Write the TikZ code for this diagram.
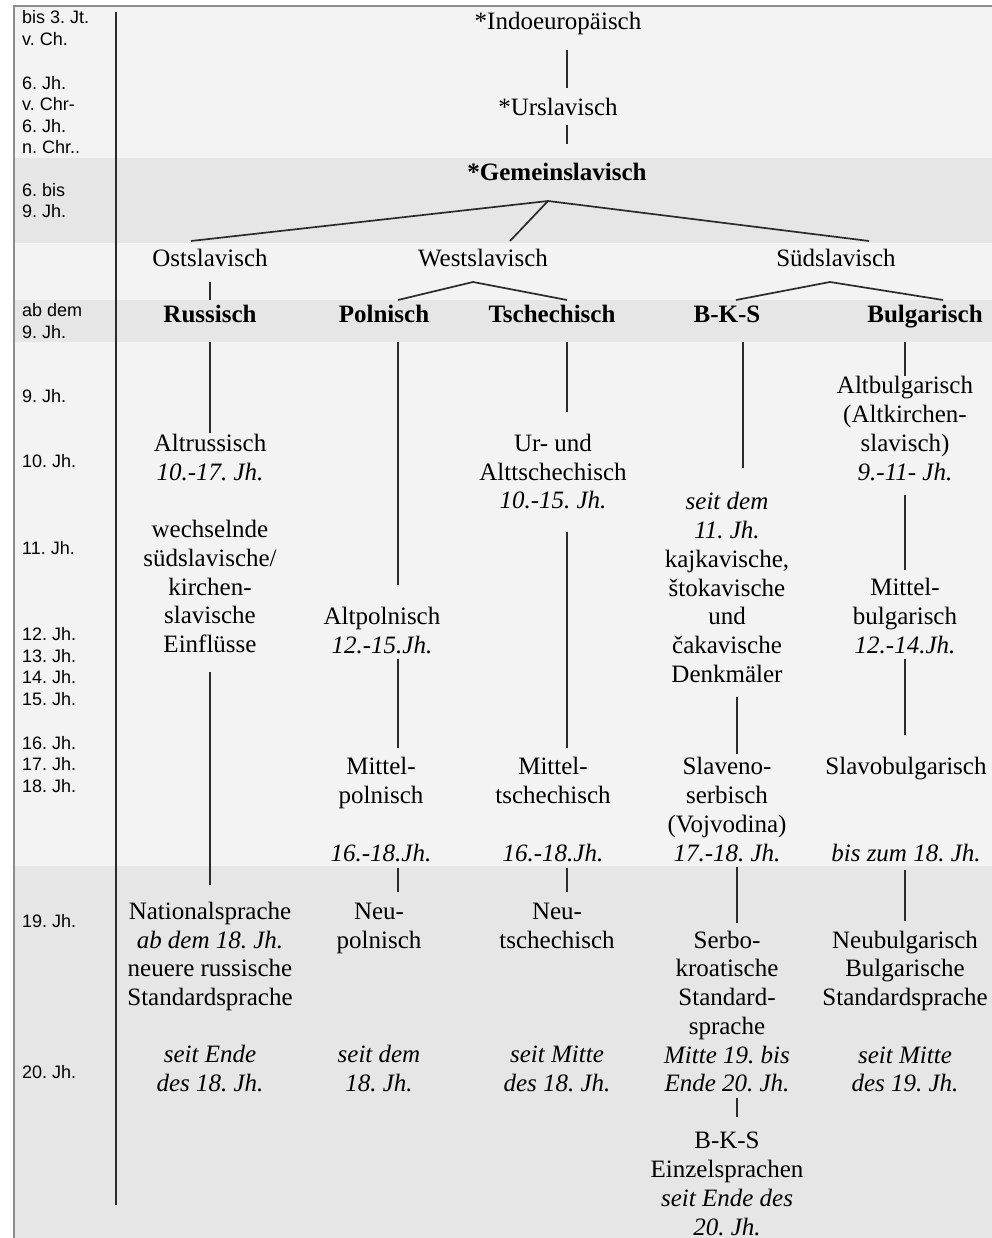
\documentclass[tikz,border=0pt]{standalone}
\usepackage{fontspec}
\setmainfont{Liberation Serif}
\newfontfamily\yrfont{Liberation Sans}
\usetikzlibrary{calc}
\frenchspacing
\definecolor{bandlight}{HTML}{F3F3F3}
\definecolor{banddark}{HTML}{E6E6E6}
\definecolor{framegray}{HTML}{8C8C8C}
\definecolor{linecol}{HTML}{2B2B2B}
\newcommand\sr{\rule[-6pt]{0pt}{24pt}}
\newcommand\vconn[5]{\draw[ln, shorten <=#3pt, shorten >=#4pt] (#1.south -| #5) -- (#2.north -| #5);}
\begin{document}
\begin{tikzpicture}[x=1pt,y=-1pt,
  lbl/.style={font=\frenchspacing\fontsize{25}{28.7}\selectfont, align=center, inner sep=0pt, outer sep=0pt},
  hdl/.style={lbl, font=\frenchspacing\fontsize{25}{28.7}\selectfont\bfseries},
  yrl/.style={font=\frenchspacing\yrfont\fontsize{18}{21.5}\selectfont, align=left, anchor=west, inner sep=0pt},
  ln/.style={draw=linecol, line width=1.7pt, line join=round},
]
\useasboundingbox (0,0) rectangle (992,1238);
% background bands
\fill[white] (0,0) rectangle (992,1238);
\fill[bandlight] (14,6) rectangle (992,158);
\fill[banddark] (14,158) rectangle (992,243);
\fill[bandlight] (14,243) rectangle (992,300);
\fill[banddark] (14,300) rectangle (992,342);
\fill[bandlight] (14,342) rectangle (992,866);
\fill[banddark] (14,866) rectangle (992,1238);
\draw[framegray, line width=1.5pt] (14,1238) -- (14,6) -- (992,6);
% time axis
\draw[linecol, line width=1.7pt] (116,12) -- (116,1205);

% column x positions
\coordinate (cI) at (567,0);
\coordinate (cR) at (210,0);
\coordinate (cP) at (398,0);
\coordinate (cT) at (567,0);
\coordinate (cB) at (743,0);
\coordinate (cBb) at (737,0);
\coordinate (cG) at (905,0);

% year labels
\node[yrl] (y1) at (22,28) {bis 3. Jt.\\v. Ch.};
\node[yrl] (y2) at (22,115) {6. Jh.\\v. Chr-\\6. Jh.\\n. Chr..};
\node[yrl] (y3) at (22,200.5) {6. bis\\9. Jh.};
\node[yrl] (y4) at (22,321) {ab dem\\9. Jh.};
\node[yrl] (y5) at (22,396.5) {9. Jh.};
\node[yrl] (y6) at (22,461.5) {10. Jh.};
\node[yrl] (y7) at (22,548.5) {11. Jh.};
\node[yrl] (y8) at (22,666.5) {12. Jh.\\13. Jh.\\14. Jh.\\15. Jh.};
\node[yrl] (y9) at (22,764.5) {16. Jh.\\17. Jh.\\18. Jh.};
\node[yrl] (y10) at (22,921) {19. Jh.};
\node[yrl] (y11) at (22,1072) {20. Jh.};

% top of tree
\node[lbl] (indo) at (558,24) {\sr*Indoeuropäisch};
\node[lbl] (ur) at (558,110) {\sr*Urslavisch};
\node[hdl] (gem) at (557,175) {\sr*Gemeinslavisch};
\node[lbl] (ost) at (210,261) {\sr Ostslavisch};
\node[lbl] (west) at (483,261) {\sr Westslavisch};
\node[lbl] (sued) at (836,261) {\sr Südslavisch};
\node[hdl] (russ) at (210,316) {\sr Russisch};
\node[hdl] (pol) at (384,316) {\sr Polnisch};
\node[hdl] (tsch) at (552,316) {\sr Tschechisch};
\node[hdl] (bks) at (727,316) {\sr B-K-S};
\node[hdl] (bulg) at (925,316) {\sr Bulgarisch};

% Russian
\node[lbl] (altr) at (210,546) {\sr Altrussisch\\\textit{10.-17. Jh.}\\~\\wechselnde\\südslavische/\\kirchen-\\slavische\\\sr Einflüsse};
\node[lbl] (nat) at (210,999.5) {\sr Nationalsprache\\\textit{ab dem 18. Jh.}\\neuere russische\\Standardsprache\\~\\\textit{seit Ende}\\\sr\textit{des 18. Jh.}};
% Polish
\node[lbl] (altp) at (382,633) {\sr Altpolnisch\\\sr\textit{12.-15.Jh.}};
\node[lbl] (mittp) at (381,812) {\sr Mittel-\\polnisch\\~\\\sr\textit{16.-18.Jh.}};
\node[lbl] (neup) at (379,999.5) {\sr Neu-\\polnisch\\~\\~\\~\\\textit{seit dem}\\\sr\textit{18. Jh.}};
% Czech
\node[lbl] (urt) at (553,474) {\sr Ur- und\\Alttschechisch\\\sr\textit{10.-15. Jh.}};
\node[lbl] (mittt) at (553,812) {\sr Mittel-\\tschechisch\\~\\\sr\textit{16.-18.Jh.}};
\node[lbl] (neut) at (557,999.5) {\sr Neu-\\tschechisch\\~\\~\\~\\\textit{seit Mitte}\\\sr\textit{des 18. Jh.}};
% B-K-S
\node[lbl] (dial) at (727,590) {\sr\textit{seit dem}\\\textit{11. Jh.}\\kajkavische,\\štokavische\\und\\čakavische\\\sr Denkmäler};
\node[lbl] (slav) at (727,812) {\sr Slaveno-\\serbisch\\(Vojvodina)\\\sr\textit{17.-18. Jh.}};
\node[lbl] (serbo) at (727,1014) {\sr Serbo-\\kroatische\\Standard-\\sprache\\\textit{Mitte 19. bis}\\\sr\textit{Ende 20. Jh.}};
\node[lbl] (bkse) at (727,1186) {\sr B-K-S\\Einzelsprachen\\\textit{seit Ende des}\\\sr\textit{20. Jh.}};
% Bulgarian
\node[lbl] (altb) at (905,431) {\sr Altbulgarisch\\(Altkirchen-\\slavisch)\\\sr\textit{9.-11- Jh.}};
\node[lbl] (mittb) at (905,618.5) {\sr Mittel-\\bulgarisch\\\sr\textit{12.-14.Jh.}};
\node[lbl] (slavb) at (906,812) {\sr Slavobulgarisch\\~\\~\\\sr\textit{bis zum 18. Jh.}};
\node[lbl] (neub) at (905,1014) {\sr Neubulgarisch\\Bulgarische\\Standardsprache\\~\\\textit{seit Mitte}\\\sr\textit{des 19. Jh.}};

% connectors: top
\vconn{indo}{ur}{14}{10}{cI}
\vconn{ur}{gem}{3}{19}{cI}
\coordinate (gapex) at ($(gem.south)+(-9,14)$);
\draw[ln] ($(ost.north)+(-19,-8)$) -- (gapex) -- ($(sued.north)+(33,-8)$);
\draw[ln] (gapex) -- ($(west.north)+(27,-8)$);
\vconn{ost}{russ}{9}{4}{cR}
\coordinate (wapex) at ($(west.south)+(-10,9)$);
\draw[ln] ($(pol.north -| cP)+(0,-4)$) -- (wapex) -- ($(tsch.north -| cT)+(0,-4)$);
\coordinate (sapex) at ($(sued.south)+(-6,9)$);
\draw[ln] ($(bks.north)+(9,-4)$) -- (sapex) -- ($(bulg.north)+(18,-4)$);

% connectors: columns
\vconn{russ}{altr}{14}{1}{cR}
\vconn{altr}{nat}{14}{16}{cR}
\vconn{pol}{altp}{14}{22}{cP}
\vconn{altp}{mittp}{0}{9}{cP}
\vconn{mittp}{neup}{1}{9}{cP}
\vconn{tsch}{urt}{14}{21}{cT}
\vconn{urt}{mittt}{17}{9}{cT}
\vconn{mittt}{neut}{1}{9}{cT}
\vconn{bks}{dial}{14}{24}{cB}
\vconn{dial}{slav}{9}{3}{cBb}
\vconn{slav}{serbo}{0}{7}{cBb}
\vconn{serbo}{bkse}{0}{14}{cBb}
\vconn{bulg}{altb}{14}{0}{cG}
\vconn{altb}{mittb}{9}{8}{cG}
\vconn{mittb}{slavb}{0}{22}{cG}
\vconn{slavb}{neub}{3}{9}{cG}
\end{tikzpicture}
\end{document}
